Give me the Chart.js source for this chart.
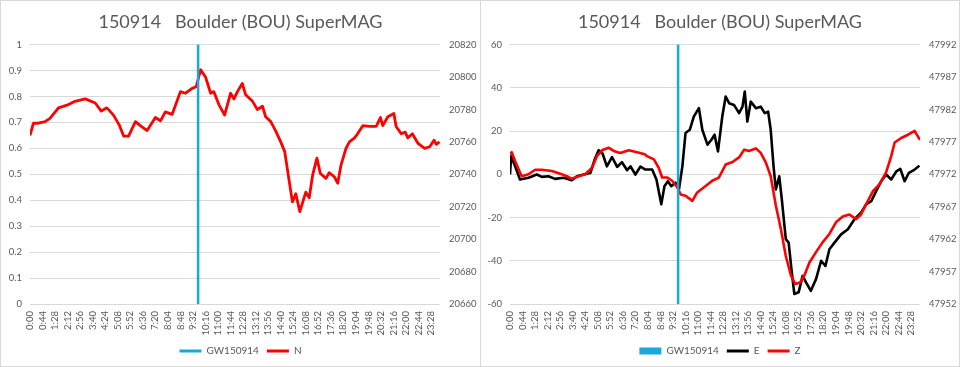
<!DOCTYPE html>
<html>
<head>
<meta charset="utf-8">
<script src="https://cdn.jsdelivr.net/npm/chart.js@4.4.0/dist/chart.umd.min.js"></script>
<style>
  html, body { margin: 0; padding: 0; background: #fff; }
  body { width: 960px; height: 367px; position: relative; overflow: hidden; }
  .panel { position: absolute; top: 0; height: 367px; border: 1px solid #d9d9d9; box-sizing: border-box; }
  #leftPanel { left: 0; width: 481px; }
  #rightPanel { left: 480px; width: 480px; }
  canvas { display: block; }
</style>
</head>
<body>
<div class="panel" id="leftPanel"><canvas id="chartN" width="479" height="365"></canvas></div>
<div class="panel" id="rightPanel"><canvas id="chartEZ" width="478" height="365"></canvas></div>
<script>
// time of the GW150914 event, minutes after 0:00 UT
const gwMinute = 590;

const timeLabels = ['0:00', '0:44', '1:28', '2:12', '2:56', '3:40', '4:24', '5:08', '5:52', '6:36', '7:20',
  '8:04', '8:48', '9:32', '10:16', '11:00', '11:44', '12:28', '13:12', '13:56', '14:40', '15:24', '16:08',
  '16:52', '17:36', '18:20', '19:04', '19:48', '20:32', '21:16', '22:00', '22:44', '23:28'];

// left panel: N component (secondary axis)
const nMinutes = [0, 12, 29, 53, 70, 100, 135, 158, 194, 229, 250, 270, 293, 313, 329, 346, 370, 387, 411, 440,
  458, 475, 499, 528, 546, 569, 583, 599, 616, 634, 645, 663, 683, 704, 716, 728, 745, 757, 781, 798, 816, 827,
  845, 863, 880, 894, 910, 921, 933, 947, 968, 980, 992, 1007, 1019, 1039, 1050, 1068, 1080, 1092, 1109, 1121,
  1139, 1148, 1168, 1191, 1215, 1230, 1238, 1256, 1277, 1285, 1303, 1317, 1326, 1342, 1362, 1385, 1403, 1418,
  1426, 1437];
const nValues = [20764, 20771.5, 20771.5, 20772.5, 20774.5, 20781, 20783, 20785, 20786.5, 20784, 20779, 20781,
  20776.5, 20770.5, 20763.5, 20763.5, 20772.5, 20770, 20767, 20775, 20773, 20778.5, 20777, 20791, 20790, 20793,
  20794, 20804.5, 20800, 20790, 20791, 20783, 20776.5, 20790, 20786.5, 20791, 20796, 20789, 20785, 20780, 20782,
  20775.5, 20772.5, 20766.5, 20760, 20754, 20735.5, 20723, 20728, 20717, 20729, 20725.5, 20739.5, 20750, 20740.5,
  20737.5, 20741, 20738.5, 20734.5, 20746, 20756, 20760, 20762.5, 20764.5, 20770, 20769.5, 20769.5, 20775, 20770,
  20775.5, 20777.5, 20769.5, 20765, 20766, 20762.5, 20765, 20759, 20756, 20757, 20761, 20758.5, 20760];
const gwTicksLeft = [0, 0.1, 0.2, 0.3, 0.4, 0.5, 0.6, 0.7, 0.8, 0.9, 1];
const nTicks = [20660, 20680, 20700, 20720, 20740, 20760, 20780, 20800, 20820];

// right panel: E (primary axis) and Z (secondary axis)
const eMinutes = [0, 4, 18, 35, 65, 94, 112, 135, 158, 188, 217, 235, 258, 282, 297, 311, 325, 340, 358, 376, 393,
  411, 423, 440, 458, 475, 499, 514, 531, 542, 554, 566, 581, 593, 605, 616, 631, 645, 663, 675, 693, 707, 718,
  730, 745, 757, 769, 786, 804, 816, 824, 833, 845, 863, 880, 894, 906, 915, 925, 933, 945, 954, 968, 978, 989,
  998, 1013, 1027, 1039, 1056, 1074, 1092, 1107, 1121, 1139, 1162, 1186, 1209, 1232, 1250, 1268, 1285, 1303,
  1320, 1338, 1356, 1370, 1385, 1400, 1417, 1437];
const eValues = [-0.1, 8.3, 3.7, -2.4, -1.6, -0.1, -1.2, -0.9, -2.1, -1.6, -2.7, -0.9, -0.1, 0.6, 6.8, 11.1, 9.6,
  3.7, 8, 3.4, 5.6, 1.9, 3.7, -0.1, 3.6, 2.2, 2.2, -2.4, -13.9, -5.5, -3.2, -5.5, -3.9, -7, 3.7, 19.1, 20.6,
  26.7, 30.6, 20.6, 13.7, 16, 18.3, 10.6, 26.7, 36, 32.9, 32.1, 28.3, 31.3, 38.3, 24.4, 33.6, 30.6, 31.3, 28.3,
  29, 20.6, 3.7, -7, -0.9, -11.6, -30, -31.6, -45.4, -55.4, -54.6, -47, -50, -53.9, -48.5, -40, -42.4, -34.7,
  -31.6, -27.8, -25.4, -20.8, -17.8, -13.9, -12.4, -7.8, -3.2, -0.1, -2.4, 1.4, 2.5, -3.2, 0.7, 1.9, 4];
const zMinutes = [0, 6, 18, 41, 65, 88, 112, 147, 176, 200, 217, 241, 264, 288, 305, 323, 346, 364, 387, 417, 446,
  473, 481, 505, 522, 534, 552, 569, 587, 599, 616, 640, 657, 681, 710, 733, 757, 781, 804, 822, 839, 863, 880,
  898, 915, 933, 951, 968, 986, 1001, 1018, 1033, 1051, 1074, 1097, 1121, 1144, 1168, 1191, 1215, 1232, 1250,
  1274, 1297, 1320, 1338, 1350, 1373, 1397, 1420, 1439];
const zValues = [47975.1, 47975.4, 47974, 47971.7, 47972, 47972.7, 47972.7, 47972.5, 47972.1, 47971.7, 47971.3,
  47971.7, 47972, 47973, 47974.8, 47975.7, 47976.1, 47975.6, 47975.3, 47975.7, 47975.4, 47975.1, 47974.8, 47974.3,
  47973, 47971.5, 47971.5, 47971, 47970, 47968.9, 47968.7, 47967.9, 47969.2, 47970, 47971, 47971.5, 47973.5,
  47973.9, 47974.6, 47975.8, 47975.6, 47976, 47975.3, 47973.8, 47971.7, 47967.2, 47963.5, 47959.4, 47956.4,
  47955.1, 47955.3, 47956.4, 47958.4, 47960, 47961.5, 47962.8, 47964.6, 47965.5, 47965.8, 47965.1, 47965.8,
  47967.4, 47969.4, 47970.5, 47972.3, 47974.8, 47976.9, 47977.6, 47978.1, 47978.7, 47977.3];
const eTicks = [-60, -40, -20, 0, 20, 40, 60];
const zTicks = [47952, 47957, 47962, 47967, 47972, 47977, 47982, 47987, 47992];

const GREY = '#595959';
const GW_BLUE = '#1aa7dd';
Chart.defaults.font.family = 'Lato, "Open Sans", sans-serif';
Chart.defaults.color = GREY;

const toMinutes = t => { const [h, m] = t.split(':'); return +h * 60 + +m; };
const pairs = (xs, ys) => xs.map((x, i) => ({ x, y: ys[i] }));
const fixTicks = list => scale => { scale.ticks = list.map(v => ({ value: v })); };

function buildPanel(canvasId, datasets, leftTicks, rightTicks) {
  const canvas = document.getElementById(canvasId);
  const plotRight = 439;
  return new Chart(canvas, {
    type: 'line',
    data: { datasets },
    options: {
      responsive: false,
      animation: false,
      layout: { padding: 0 },
      elements: { point: { radius: 0 }, line: { tension: 0, borderJoinStyle: 'round' } },
      plugins: {
        tooltip: { enabled: false },
        title: {
          display: true,
          text: '150914   Boulder (BOU) SuperMAG',
          color: GREY,
          font: { size: 18, weight: 'normal' },
          padding: { top: 10, bottom: 12 }
        },
        legend: {
          position: 'bottom',
          labels: {
            usePointStyle: true,
            pointStyleWidth: 22,
            boxHeight: 7,
            padding: 8,
            color: GREY,
            font: { size: 10 },
            generateLabels: chart => chart.data.datasets.map((ds, i) => ({
              text: ds.label,
              fillStyle: ds.borderColor,
              strokeStyle: ds.borderColor,
              lineWidth: ds.pointStyle === 'rect' ? 0 : 3,
              pointStyle: ds.pointStyle,
              fontColor: GREY,
              hidden: false,
              datasetIndex: i
            }))
          }
        }
      },
      scales: {
        x: {
          type: 'linear',
          min: 0,
          max: 1439,
          afterFit: s => { s.height = 34; },
          afterBuildTicks: fixTicks(timeLabels.map(toMinutes)),
          grid: { display: false, drawTicks: false },
          border: { display: false },
          ticks: {
            autoSkip: false,
            maxRotation: 90,
            minRotation: 90,
            padding: 7,
            font: { size: 9.5 },
            callback: (v, i) => timeLabels[i]
          }
        },
        y: {
          position: 'left',
          min: leftTicks[0],
          max: leftTicks[leftTicks.length - 1],
          afterFit: s => { s.width = 29; },
          afterBuildTicks: fixTicks(leftTicks),
          grid: { color: '#d9d9d9', drawTicks: false },
          border: { display: false },
          ticks: { padding: 8, font: { size: 9.5 }, callback: v => String(+v.toFixed(2)) }
        },
        y2: {
          position: 'right',
          min: rightTicks[0],
          max: rightTicks[rightTicks.length - 1],
          afterFit: s => { s.width = canvas.width - plotRight; },
          afterBuildTicks: fixTicks(rightTicks),
          grid: { drawOnChartArea: false, drawTicks: false },
          border: { display: false },
          ticks: { padding: 9, font: { size: 9.5 }, callback: v => String(v) }
        }
      }
    }
  });
}

buildPanel('chartN', [
  { label: 'GW150914', data: [{ x: gwMinute, y: 0 }, { x: gwMinute, y: 1 }], yAxisID: 'y',
    borderColor: GW_BLUE, borderWidth: 2.5, pointStyle: 'line', order: 0 },
  { label: 'N', data: pairs(nMinutes, nValues), yAxisID: 'y2',
    borderColor: '#ff0000', borderWidth: 2.8, pointStyle: 'line', order: 1 }
], gwTicksLeft, nTicks);

buildPanel('chartEZ', [
  { label: 'GW150914', data: [{ x: gwMinute, y: -60 }, { x: gwMinute, y: 60 }], yAxisID: 'y',
    borderColor: GW_BLUE, borderWidth: 2.5, pointStyle: 'rect', order: 0 },
  { label: 'E', data: pairs(eMinutes, eValues), yAxisID: 'y',
    borderColor: '#000000', borderWidth: 2.6, pointStyle: 'line', order: 2 },
  { label: 'Z', data: pairs(zMinutes, zValues), yAxisID: 'y2',
    borderColor: '#ff0000', borderWidth: 2.6, pointStyle: 'line', order: 1 }
], eTicks, zTicks);
</script>
</body>
</html>
